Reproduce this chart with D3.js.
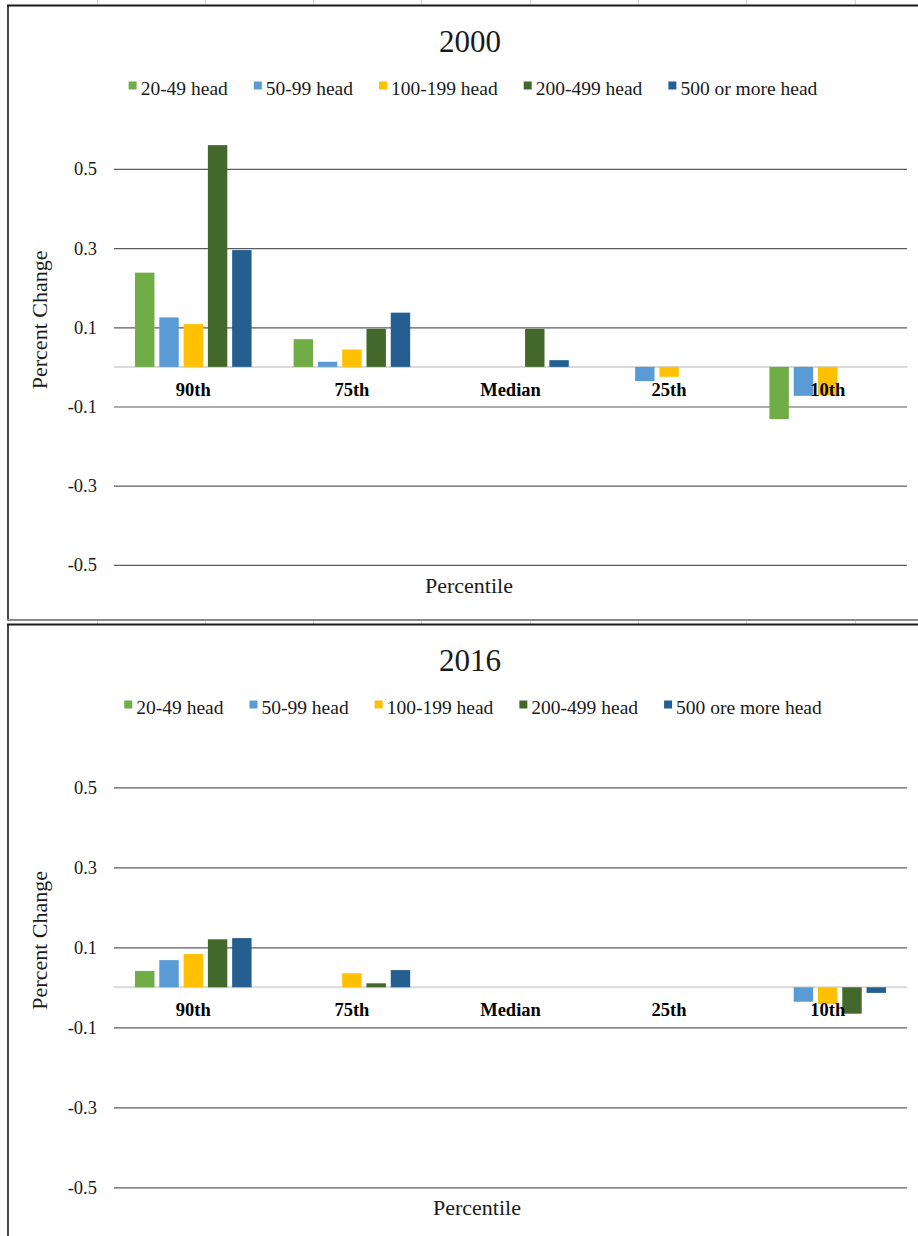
<!DOCTYPE html>
<html>
<head>
<meta charset="utf-8">
<script src="https://cdn.jsdelivr.net/npm/d3@7"></script>
<style>
  html, body { margin: 0; padding: 0; background: #fff; }
  svg { display: block; }
</style>
</head>
<body>
<script>
// Percentile categories shared by both panels
const categories = ["90th", "75th", "Median", "25th", "10th"];

// Herd-size series names (the 2016 legend keeps its own wording)
const series2000 = ["20-49 head", "50-99 head", "100-199 head", "200-499 head", "500 or more head"];
const series2016 = ["20-49 head", "50-99 head", "100-199 head", "200-499 head", "500 ore more head"];

// Percent change by series, one value per percentile (90th, 75th, Median, 25th, 10th)
const values2000_20_49   = [0.238, 0.070, 0.000,  0.000, -0.132];
const values2000_50_99   = [0.125, 0.013, 0.000, -0.036, -0.073];
const values2000_100_199 = [0.108, 0.044, 0.000, -0.025, -0.072];
const values2000_200_499 = [0.560, 0.096, 0.096,  0.000,  0.000];
const values2000_500plus = [0.295, 0.137, 0.017,  0.000,  0.000];

const values2016_20_49   = [0.041, 0.000, 0.000, 0.000,  0.000];
const values2016_50_99   = [0.068, 0.000, 0.000, 0.000, -0.036];
const values2016_100_199 = [0.083, 0.035, 0.000, 0.000, -0.042];
const values2016_200_499 = [0.120, 0.010, 0.000, 0.000, -0.066];
const values2016_500plus = [0.123, 0.043, 0.000, 0.000, -0.014];

// Y axis tick labels
const yTicks = [0.5, 0.3, 0.1, -0.1, -0.3, -0.5];
const yDomain = [-0.5, 0.5];

const seriesColors = ["#70AD47", "#5B9BD5", "#FFC000", "#43682B", "#255E91"];
const SERIF = "'Liberation Serif', 'Times New Roman', serif";

const W = 918, H = 1236;
const svg = d3.select("body").append("svg").attr("width", W).attr("height", H)
  .style("font-family", SERIF);

// worksheet column lines behind the chart objects
const sheetCols = [97, 205, 313, 421, 530, 638, 746, 855];
svg.append("g").selectAll("line").data(sheetCols).join("line")
  .attr("x1", d => d + 0.5).attr("x2", d => d + 0.5)
  .attr("y1", 0).attr("y2", H)
  .attr("stroke", "#d4d4d4").attr("stroke-width", 1);

function serifText(sel) {
  return sel.style("font-family", SERIF);
}

function drawPanel(cfg) {
  const g = svg.append("g");

  // chart object frame
  g.append("rect")
    .attr("x", 8).attr("y", cfg.top).attr("width", 940).attr("height", cfg.height)
    .attr("fill", "#fff");
  g.append("line").attr("x1", 7).attr("x2", W).attr("y1", cfg.top).attr("y2", cfg.top)
    .attr("stroke", "#1a1a1a").attr("stroke-width", 2.2);
  g.append("line").attr("x1", 8).attr("x2", 8).attr("y1", cfg.top).attr("y2", cfg.top + cfg.height)
    .attr("stroke", "#1a1a1a").attr("stroke-width", 1.6);
  if (cfg.bottomBorder) {
    g.append("line").attr("x1", 7).attr("x2", W)
      .attr("y1", cfg.top + cfg.height).attr("y2", cfg.top + cfg.height)
      .attr("stroke", "#8a8a8a").attr("stroke-width", 1.8);
  }

  const x0 = d3.scaleBand().domain(categories).range([114, 907])
    .paddingInner(0.265).paddingOuter(0.1325);
  const x1 = d3.scaleBand().domain(d3.range(cfg.series.length))
    .range([0, x0.bandwidth()]).paddingInner(0.2);
  const y = d3.scaleLinear().domain(yDomain).range([cfg.yBottom, cfg.yTop]);

  // title
  g.append("text").attr("x", 470).attr("y", cfg.top + 46)
    .attr("text-anchor", "middle").attr("font-size", 31).attr("fill", "#1a1a1a")
    .call(serifText)
    .text(cfg.title);

  // legend, laid out from measured label widths and centred
  const legend = g.append("g");
  const sq = 8, gapText = 4, gapItem = 26, lfs = 19.5;
  const items = cfg.series.map((name, i) => {
    const t = legend.append("text").attr("font-size", lfs).attr("fill", "#1a1a1a")
      .call(serifText).text(name);
    return { t, w: t.node().getComputedTextLength(), i };
  });
  const total = d3.sum(items, d => sq + gapText + d.w) + gapItem * (items.length - 1);
  let lx = cfg.legendCx - total / 2;
  const ly = cfg.top + 83;
  items.forEach(d => {
    legend.append("rect").attr("x", lx).attr("y", ly - sq + 1).attr("width", sq).attr("height", sq)
      .attr("fill", seriesColors[d.i]);
    d.t.attr("x", lx + sq + gapText).attr("y", ly + 6);
    lx += sq + gapText + d.w + gapItem;
  });

  // gridlines and tick labels
  const axis = d3.axisLeft(y).tickValues(yTicks)
    .tickSize(-(907 - 114)).tickPadding(17).tickFormat(d => d.toFixed(1));
  const ag = g.append("g").attr("transform", "translate(114,0)").call(axis);
  ag.attr("font-family", null);
  ag.select(".domain").remove();
  ag.selectAll(".tick line").attr("stroke", "#5c5c5c").attr("stroke-width", 1.2);
  ag.selectAll(".tick text").attr("font-size", 18.5).attr("fill", "#1a1a1a").call(serifText);

  // zero baseline
  g.append("line").attr("x1", 114).attr("x2", 907)
    .attr("y1", y(0)).attr("y2", y(0))
    .attr("stroke", "#d9d9d9").attr("stroke-width", 2);

  // bars
  const cells = [];
  cfg.values.forEach((vals, si) => vals.forEach((v, ci) => cells.push({ si, ci, v })));
  g.append("g").selectAll("rect").data(cells.filter(d => d.v !== 0)).join("rect")
    .attr("x", d => x0(categories[d.ci]) + x1(d.si))
    .attr("width", x1.bandwidth())
    .attr("y", d => y(Math.max(0, d.v)))
    .attr("height", d => Math.abs(y(d.v) - y(0)))
    .attr("fill", d => seriesColors[d.si]);

  // category labels sit just below the zero line
  g.append("g").selectAll("text").data(categories).join("text")
    .attr("x", d => x0(d) + x0.bandwidth() / 2)
    .attr("y", y(0) + 29)
    .attr("text-anchor", "middle").attr("font-size", 18.5).attr("font-weight", "bold")
    .attr("fill", "#000")
    .call(serifText)
    .text(d => d);

  // axis titles
  g.append("text").attr("x", cfg.xTitleCx).attr("y", cfg.yBottom + 28)
    .attr("text-anchor", "middle").attr("font-size", 22).attr("fill", "#1a1a1a")
    .call(serifText)
    .text("Percentile");
  g.append("text")
    .attr("transform", `translate(47,${(cfg.yTop + cfg.yBottom) / 2 - 47}) rotate(-90)`)
    .attr("text-anchor", "middle").attr("font-size", 22).attr("fill", "#1a1a1a")
    .call(serifText)
    .text("Percent Change");
}

drawPanel({
  title: "2000", top: 5.5, height: 614.5, bottomBorder: true,
  series: series2000,
  values: [values2000_20_49, values2000_50_99, values2000_100_199, values2000_200_499, values2000_500plus],
  yTop: 168.9, yBottom: 564.9, legendCx: 473, xTitleCx: 469
});

drawPanel({
  title: "2016", top: 624.5, height: 700, bottomBorder: false,
  series: series2016,
  values: [values2016_20_49, values2016_50_99, values2016_100_199, values2016_200_499, values2016_500plus],
  yTop: 787.3, yBottom: 1187.3, legendCx: 473, xTitleCx: 477
});
</script>
</body>
</html>
